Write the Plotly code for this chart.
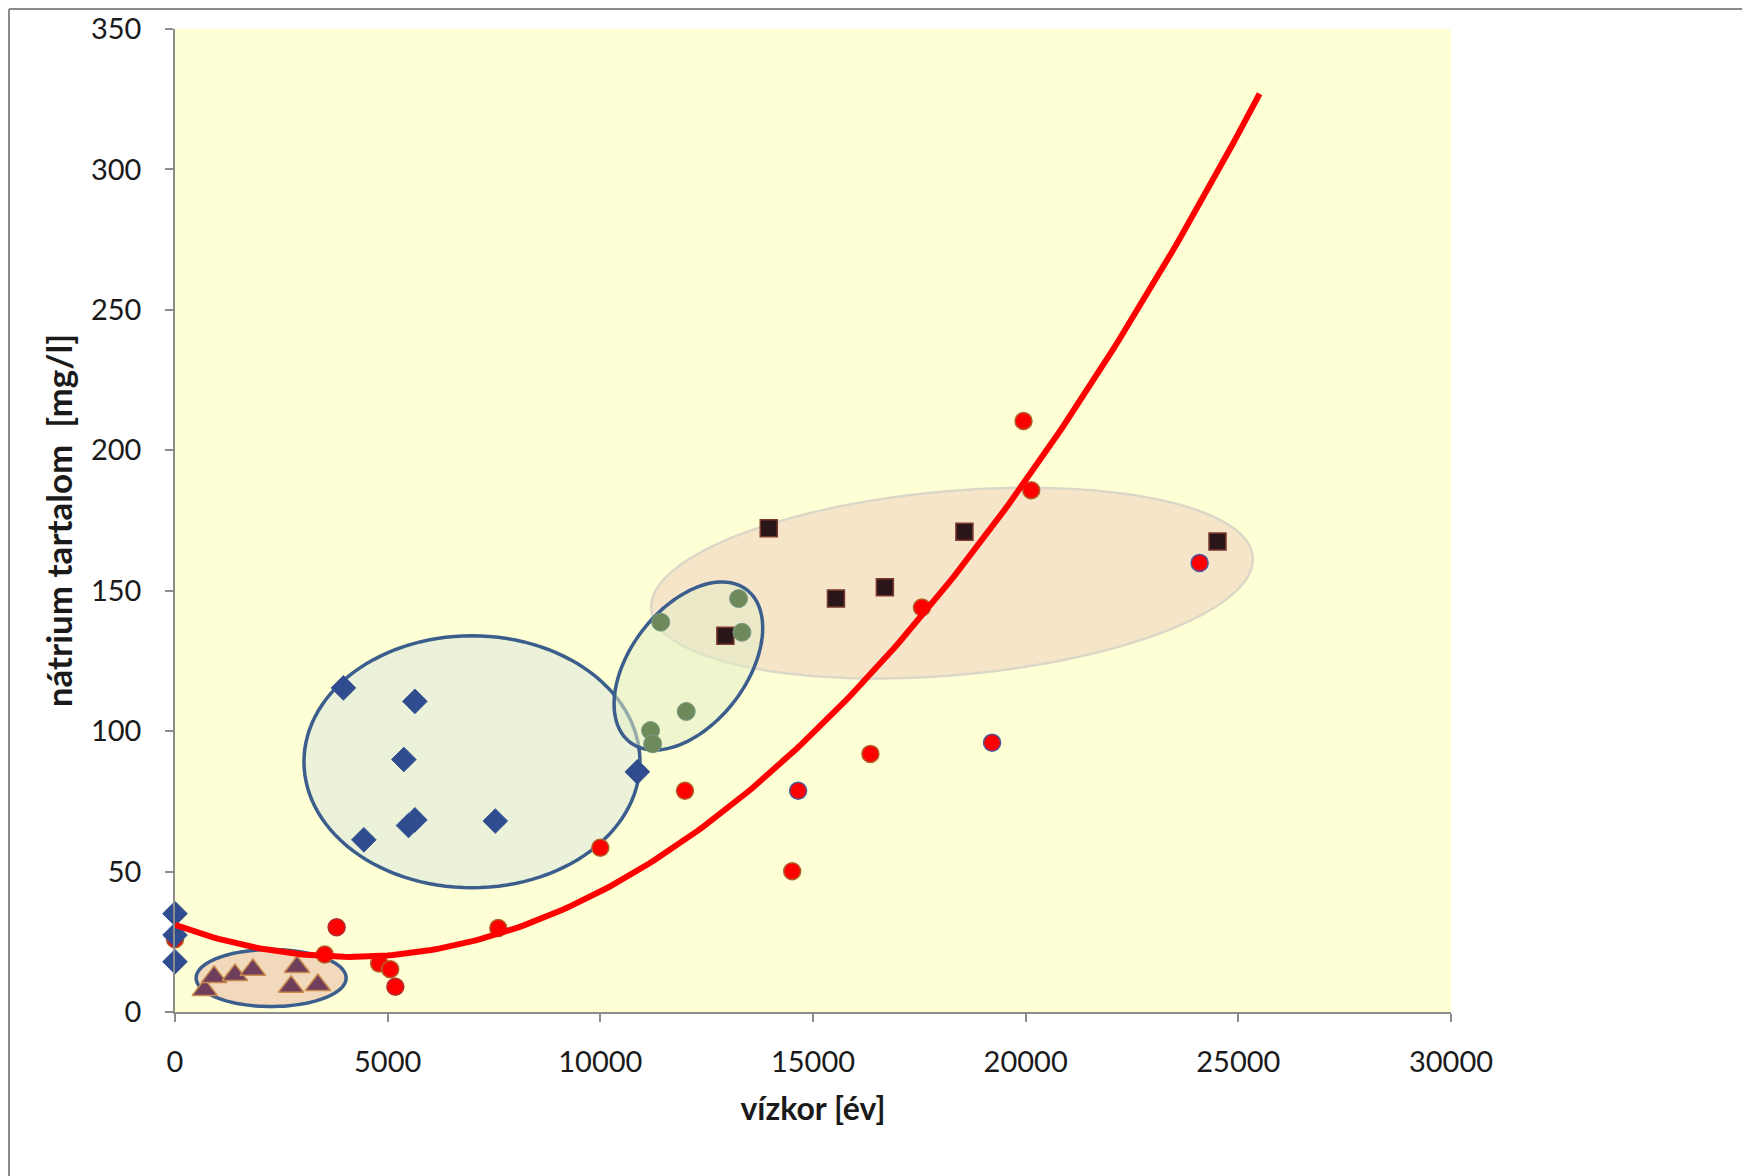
import numpy as np
import plotly.graph_objects as go

# ---------------- data ----------------
red_x = [0, 3800, 3520, 4800, 5060, 5180, 7600, 10000, 11990, 14650, 14510, 16350, 17560, 19210, 19950, 20130, 24090]
red_y = [25.9, 30.2, 20.5, 17.3, 15.2, 9.0, 29.9, 58.5, 78.8, 78.8, 50.1, 91.9, 144.0, 95.9, 210.4, 185.8, 159.9]
red_edge = ["#B0602A", "#B03030", "#B0602A", "#B0602A", "#B0602A", "#B03030", "#B0602A", "#B0602A",
            "#B0602A", "#4A5A9A", "#B0602A", "#B0602A", "#B0602A", "#4A5A9A", "#B0602A", "#B0602A", "#4A5A9A"]

dia_x = [0, 0, 0, 3960, 5640, 5380, 5640, 5490, 4440, 7530, 10870]
dia_y = [35.0, 27.4, 17.9, 115.4, 110.6, 89.9, 68.4, 66.4, 61.3, 68.0, 85.5]

tri_x = [700, 920, 1410, 1830, 2870, 2730, 3360]
tri_y = [7.8, 12.5, 13.2, 15.0, 16.0, 9.0, 9.6]

sq_x = [13960, 18560, 24510, 16690, 15540, 12940]
sq_y = [172.2, 171.0, 167.5, 151.2, 147.2, 134.0]

grn_x = [11420, 13250, 13330, 12020, 11180, 11230]
grn_y = [138.8, 147.2, 135.2, 107.0, 100.2, 95.5]

# second-order polynomial trend line (coefficients)
trend_coef = [6.72e-7, -5.53e-3, 31.0]
trend_range = [0, 25500]

x_ticks = [0, 5000, 10000, 15000, 20000, 25000, 30000]
y_ticks = [0, 50, 100, 150, 200, 250, 300, 350]

# ---------------- layout geometry ----------------
W, H = 1750, 1176
ML, MR, MT, MB = 167, 307, 21, 172
PW, PH = W - ML - MR, H - MT - MB
XMAX, YMAX = 30000, 350
kx = PW / XMAX   # px per x unit
ky = PH / YMAX   # px per y unit

FONT = "Lato, 'Open Sans', sans-serif"
TXT = "#1A1A1A"


def ellipse_path(cx, cy, a_px, b_px, ang_deg, n=120):
    th = np.radians(ang_deg)
    t = np.linspace(0, 2 * np.pi, n, endpoint=False)
    dx = a_px * np.cos(t) * np.cos(th) - b_px * np.sin(t) * np.sin(th)
    dy = a_px * np.cos(t) * np.sin(th) + b_px * np.sin(t) * np.cos(th)
    xs = cx + dx / kx
    ys = cy + dy / ky
    pts = [f"{x:.2f},{y:.3f}" for x, y in zip(xs, ys)]
    return "M " + " L ".join(pts) + " Z"


fig = go.Figure()

# ellipses (group highlights)
ell_specs = [
    # center x, center y, semi-axis a (px), b (px), angle, fill, line colour, line width
    (18268, 152.7, 302, 92, 5, "#F6E5C9", "#DCD8C8", 2.5),
    (6982, 89.1, 168, 126, 0, "#EBF2D9", "#3B5E8C", 3.5),
    (12070, 123.2, 96, 58, 52.6, "rgba(226,236,196,0.55)", "#3B5E8C", 3.5),
    (2260, 12.1, 75, 28.5, 0, "#F2D9BC", "#3B5E8C", 3.5),
]
shapes = []
for cx, cy, a, b, ang, fc, lc, lw in ell_specs:
    shapes.append(dict(type="path", path=ellipse_path(cx, cy, a, b, ang), xref="x", yref="y",
                       fillcolor=fc, line=dict(color=lc, width=lw), layer="below"))

# outer frame lines (slide border)
top_y = 1 + (MT - 1) / PH
left_x = -(ML - 1) / PW
shapes.append(dict(type="line", xref="paper", yref="paper", x0=left_x, x1=(W - ML) / PW,
                   y0=top_y, y1=top_y, line=dict(color="#8A8A8A", width=2)))
shapes.append(dict(type="line", xref="paper", yref="paper", x0=left_x, x1=left_x,
                   y0=-MB / PH, y1=top_y, line=dict(color="#8A8A8A", width=2)))

fig.add_trace(go.Scatter(x=red_x, y=red_y, mode="markers", name="red", cliponaxis=False,
                         marker=dict(symbol="circle", size=17, color="#FF0000",
                                     line=dict(color=red_edge, width=1.5))))
fig.add_trace(go.Scatter(x=dia_x, y=dia_y, mode="markers", name="diamond", cliponaxis=False,
                         marker=dict(symbol="diamond", size=19, color="#2F4D8E",
                                     line=dict(color="#3A5896", width=1))))
fig.add_trace(go.Scatter(x=tri_x, y=tri_y, mode="markers", name="triangle", cliponaxis=False,
                         marker=dict(symbol="triangle-up", size=22, color="#6E3E5A",
                                     line=dict(color="#C98A4E", width=1.5))))
fig.add_trace(go.Scatter(x=sq_x, y=sq_y, mode="markers", name="square", cliponaxis=False,
                         marker=dict(symbol="square", size=17, color="#2A1518",
                                     line=dict(color="#7A3A2E", width=1.5))))
fig.add_trace(go.Scatter(x=grn_x, y=grn_y, mode="markers", name="green", cliponaxis=False,
                         marker=dict(symbol="circle", size=18, color="#6E8A5A",
                                     line=dict(color="#7A9A88", width=1))))

tx = np.linspace(trend_range[0], trend_range[1], 200)
ty = np.polyval(trend_coef, tx)
fig.add_trace(go.Scatter(x=tx, y=ty, mode="lines", name="trend", cliponaxis=False,
                         line=dict(color="#FF0000", width=6)))

axis_common = dict(showgrid=False, zeroline=False, showline=True, linecolor="#8C8C8C", linewidth=1.5,
                   ticks="outside", ticklen=8, tickcolor="#8C8C8C", tickwidth=1.5,
                   tickfont=dict(family=FONT, size=29, color=TXT))

fig.update_layout(
    width=W, height=H,
    margin=dict(l=ML, r=MR, t=MT, b=MB, autoexpand=False),
    paper_bgcolor="white", plot_bgcolor="#FFFFD6",
    showlegend=False,
    shapes=shapes,
    xaxis=dict(range=[0, XMAX], tickvals=x_ticks, ticktext=[str(v) for v in x_ticks],
               ticklabelstandoff=15,
               title=dict(text="<b>vízkor [év]</b>", standoff=21,
                          font=dict(family=FONT, size=32, color=TXT)),
               **axis_common),
    yaxis=dict(range=[0, YMAX], tickvals=y_ticks, ticktext=[str(v) for v in y_ticks],
               ticklabelstandoff=18,
               title=dict(text="<b>nátrium tartalom  [mg/l]</b>", standoff=8,
                          font=dict(family=FONT, size=35, color=TXT)),
               **axis_common),
)

fig.write_html("out.html")
